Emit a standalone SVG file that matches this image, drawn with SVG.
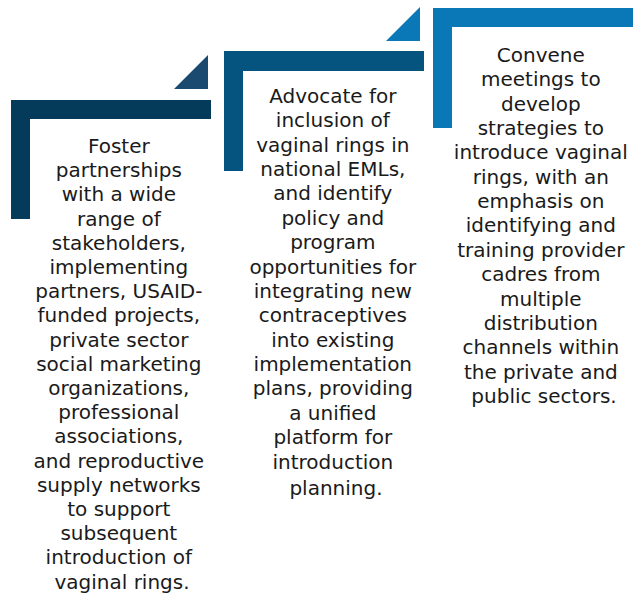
<svg xmlns="http://www.w3.org/2000/svg" width="641" height="594" viewBox="0 0 641 594">
<style>
.t{font-family:"DejaVu Sans","Liberation Sans",sans-serif;font-size:20px;fill:#1a1a1a;text-anchor:middle}
</style>
<rect width="641" height="594" fill="#ffffff"/>
<g id="step1">
<path d="M11,100 H211 V119 H30 V219 H11 Z" fill="#043a5a"/>
<path d="M174,89 H208 V55 Z" fill="#1a4a70"/>
<text class="t">
<tspan x="122" y="153">Foster</tspan>
<tspan x="122" dy="24.2">partnerships</tspan>
<tspan x="122" dy="24.2">with a wide</tspan>
<tspan x="122" dy="24.2">range of</tspan>
<tspan x="122" dy="24.2">stakeholders,</tspan>
<tspan x="122" dy="24.2">implementing</tspan>
<tspan x="122" dy="24.2">partners, USAID-</tspan>
<tspan x="122" dy="24.2">funded projects,</tspan>
<tspan x="122" dy="24.2">private sector</tspan>
<tspan x="122" dy="24.2">social marketing</tspan>
<tspan x="122" dy="24.2">organizations,</tspan>
<tspan x="122" dy="24.2">professional</tspan>
<tspan x="122" dy="24.2">associations,</tspan>
<tspan x="122" dy="24.2">and reproductive</tspan>
<tspan x="122" dy="24.2">supply networks</tspan>
<tspan x="122" dy="24.2">to support</tspan>
<tspan x="122" dy="24.2">subsequent</tspan>
<tspan x="122" dy="24.2">introduction of</tspan>
<tspan x="122" dy="24.2">vaginal rings.</tspan>
</text>
</g>
<g id="step2">
<path d="M224,51 H424 V71 H243 V171 H224 Z" fill="#04547f"/>
<path d="M386,41 H420 V7 Z" fill="#0a77b6"/>
<text class="t">
<tspan x="336" y="102.7">Advocate for</tspan>
<tspan x="336" dy="24.4">inclusion of</tspan>
<tspan x="336" dy="24.4">vaginal rings in</tspan>
<tspan x="336" dy="24.4">national EMLs,</tspan>
<tspan x="336" dy="24.4">and identify</tspan>
<tspan x="336" dy="24.4">policy and</tspan>
<tspan x="336" dy="24.4">program</tspan>
<tspan x="336" dy="24.4">opportunities for</tspan>
<tspan x="336" dy="24.4">integrating new</tspan>
<tspan x="336" dy="24.4">contraceptives</tspan>
<tspan x="336" dy="24.4">into existing</tspan>
<tspan x="336" dy="24.4">implementation</tspan>
<tspan x="336" dy="24.4">plans, providing</tspan>
<tspan x="336" dy="24.4">a unified</tspan>
<tspan x="336" dy="24.4">platform for</tspan>
<tspan x="336" dy="24.4">introduction</tspan>
<tspan x="336" dy="26">planning.</tspan>
</text>
</g>
<g id="step3">
<path d="M433,8 H633 V27 H452 V128 H433 Z" fill="#0a77b6"/>
<text class="t">
<tspan x="544" y="61.7">Convene</tspan>
<tspan x="544" dy="24.4">meetings to</tspan>
<tspan x="544" dy="24.4">develop</tspan>
<tspan x="544" dy="24.4">strategies to</tspan>
<tspan x="544" dy="24.4">introduce vaginal</tspan>
<tspan x="544" dy="24.4">rings, with an</tspan>
<tspan x="544" dy="24.4">emphasis on</tspan>
<tspan x="544" dy="24.4">identifying and</tspan>
<tspan x="544" dy="24.4">training provider</tspan>
<tspan x="544" dy="24.4">cadres from</tspan>
<tspan x="544" dy="24.4">multiple</tspan>
<tspan x="544" dy="24.4">distribution</tspan>
<tspan x="544" dy="24.4">channels within</tspan>
<tspan x="544" dy="24.4">the private and</tspan>
<tspan x="544" dy="24.4">public sectors.</tspan>
</text>
</g>
<g id="connectors"></g>
</svg>
